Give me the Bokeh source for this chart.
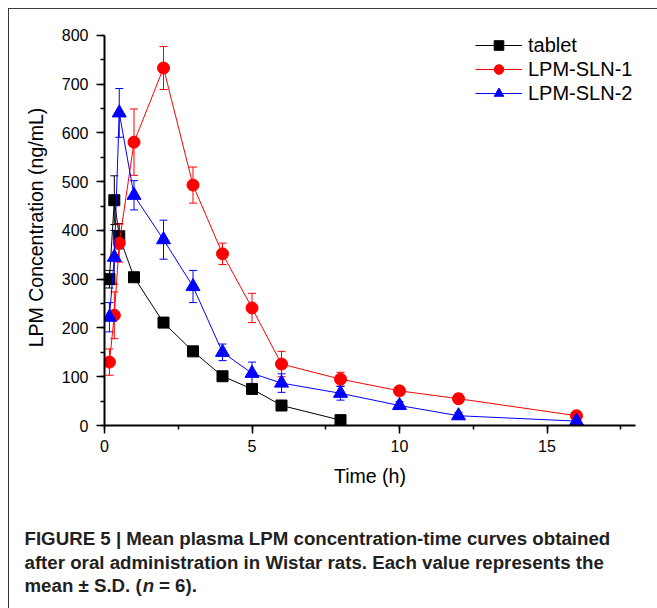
from bokeh.plotting import figure
from bokeh.layouts import column
from bokeh.models import (ColumnDataSource, Whisker, TeeHead, Legend, LegendItem,
                          Label, Range1d, SingleIntervalTicker)
from bokeh.embed import file_html
from bokeh.resources import INLINE

# ---- data ----
time_tablet = [0.167, 0.333, 0.5, 1, 2, 3, 4, 5, 6, 8]
conc_tablet = [300, 462, 388, 304, 211, 152, 101, 75, 41, 11]
sd_tablet = [18, 50, 26, 8, 7, 6, 5, 6, 5, 3]

time_sln = [0.167, 0.333, 0.5, 1, 2, 3, 4, 5, 6, 8, 10, 12, 16]
conc_sln1 = [130, 226, 374, 581, 733, 493, 352, 241, 126, 95, 71, 55, 20]
sd_sln1 = [27, 48, 39, 68, 44, 37, 22, 30, 26, 14, 9, 10, 7]
conc_sln2 = [222, 345, 641, 472, 381, 285, 150, 107, 87, 66, 41, 20, 9]
sd_sln2 = [30, 55, 50, 30, 40, 33, 17, 23, 19, 14, 8, 7, 4]

series_names = ["tablet", "LPM-SLN-1", "LPM-SLN-2"]
x_label = "Time (h)"
y_label = "LPM Concentration (ng/mL)"
caption_lines = ["FIGURE 5 | Mean plasma LPM concentration-time curves obtained",
                 "after oral administration in Wistar rats. Each value represents the"]
caption_last = ["mean \u00b1 S.D. (", "n", "= 6)."]

FONT = "Liberation Sans"

# ---------------- chart ----------------
p = figure(width=648, height=500, x_range=Range1d(0, 18), y_range=Range1d(0, 812),
           output_backend="svg", toolbar_location=None,
           min_border_left=95, min_border_right=22, min_border_top=20,
           min_border_bottom=84)
p.outline_line_color = None
p.xgrid.visible = False
p.ygrid.visible = False
p.background_fill_color = "white"
p.border_fill_color = "white"

p.xaxis.ticker = SingleIntervalTicker(interval=5, num_minor_ticks=2)
p.yaxis.ticker = SingleIntervalTicker(interval=100, num_minor_ticks=2)
p.yaxis.bounds = (0, 800)
for ax in (p.xaxis, p.yaxis):
    ax.axis_line_width = 2
    ax.axis_line_color = "black"
    ax.major_tick_in = 0
    ax.major_tick_out = 8
    ax.minor_tick_in = 0
    ax.minor_tick_out = 4
    ax.major_tick_line_width = 1.5
    ax.minor_tick_line_width = 1.5
    ax.major_tick_line_color = "black"
    ax.minor_tick_line_color = "black"
    ax.major_label_text_font = FONT
    ax.major_label_text_font_size = "16px"
    ax.major_label_text_color = "black"
    ax.axis_label_text_font = FONT
    ax.axis_label_text_font_size = "19.5px"
    ax.axis_label_text_font_style = "normal"
    ax.axis_label_text_color = "black"
p.xaxis.major_label_standoff = 6
p.yaxis.major_label_standoff = 8
p.xaxis.axis_label = x_label
p.yaxis.axis_label = y_label
p.xaxis.axis_label_standoff = 10
p.yaxis.axis_label_standoff = 12

colors = ["black", "#ff0000", "#0000ff"]
markers = ["square", "circle", "triangle"]
sizes = [11, 12, 14]
xs = [time_tablet, time_sln, time_sln]
ys = [conc_tablet, conc_sln1, conc_sln2]
sds = [sd_tablet, sd_sln1, sd_sln2]

items = []
for name, c, m, s, x, y, sd in zip(series_names, colors, markers, sizes, xs, ys, sds):
    src = ColumnDataSource(dict(x=x, y=y,
                                upper=[a + b for a, b in zip(y, sd)],
                                lower=[a - b for a, b in zip(y, sd)]))
    w = Whisker(source=src, base="x", upper="upper", lower="lower",
                line_color=c, line_width=1,
                upper_head=TeeHead(size=8, line_color=c, line_width=1),
                lower_head=TeeHead(size=8, line_color=c, line_width=1))
    p.add_layout(w)
    ln = p.line("x", "y", source=src, line_color=c, line_width=1)
    sc = p.scatter("x", "y", source=src, marker=m, size=s, fill_color=c,
                   line_color=c)
    items.append(LegendItem(label=name, renderers=[ln, sc]))

legend = Legend(items=items, location=(371, 320), padding=0, margin=0,
                border_line_color=None, background_fill_alpha=0,
                glyph_width=47, glyph_height=24, label_height=24, spacing=0,
                label_standoff=6, label_text_font=FONT,
                label_text_font_size="20px", label_text_color="black")
p.add_layout(legend)

# ---------------- caption panel ----------------
cap = figure(width=648, height=99, x_range=Range1d(0, 648), y_range=Range1d(0, 99),
             output_backend="svg", toolbar_location=None,
             x_axis_type=None, y_axis_type=None, min_border=0)
cap.outline_line_color = None
cap.xgrid.visible = False
cap.ygrid.visible = False
cap.background_fill_color = "white"
cap.border_fill_color = "white"
for fig in (p, cap):
    if "frame_align" in fig.properties():
        fig.frame_align = False

cap_kw = dict(x_units="screen", y_units="screen", text_font=FONT,
              text_font_size="18.7px", text_font_style="bold",
              text_color="#231f20", text_baseline="alphabetic", text_align="left")
cap.add_layout(Label(x=15, y=70, text=caption_lines[0], **cap_kw))
cap.add_layout(Label(x=15, y=46.5, text=caption_lines[1], **cap_kw))
cap.add_layout(Label(x=15, y=23, text=caption_last[0], **cap_kw))
kw_i = dict(cap_kw)
kw_i["text_font_style"] = "bold italic"
cap.add_layout(Label(x=15 + 118.3, y=23, text=caption_last[1], **kw_i))
cap.add_layout(Label(x=15 + 134.5, y=23, text=caption_last[2], **cap_kw))

page = column(p, cap, spacing=0)
page.styles = {"margin-left": "8px", "margin-top": "8px",
               "border-left": "1px solid #3a3a3a", "border-top": "1px solid #3a3a3a"}

open("out.html", "w").write(file_html(page, INLINE))
